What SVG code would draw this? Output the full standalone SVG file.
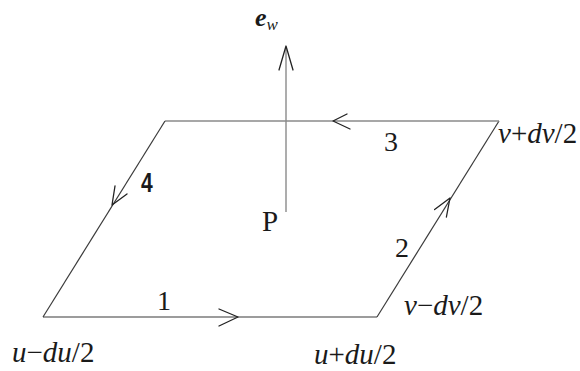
<svg xmlns="http://www.w3.org/2000/svg" width="580" height="371" viewBox="0 0 580 371">
<style>
.edge{stroke:#3a3a3a;stroke-width:1.2;fill:none}
.light{stroke:#8a8a8a;stroke-width:1.4;fill:none}
.head{stroke:#222;stroke-width:1.3;fill:none;stroke-linecap:round;stroke-linejoin:round}
.lab{font-family:"Liberation Serif","Times New Roman",serif;font-size:29px;fill:#1a1a1a}
.it{font-style:italic}
.num{font-family:"Liberation Serif","Times New Roman",serif;font-size:28px;fill:#1a1a1a}
.num4{font-family:"Liberation Sans",Arial,sans-serif;font-size:27px;font-weight:bold;fill:#1a1a1a}
</style>
<rect width="580" height="371" fill="#ffffff"/>
<g id="connectors">
  <line id="edge1" class="edge" x1="43" y1="317" x2="377" y2="317"/>
  <line id="edge2" class="edge" x1="377" y1="317" x2="499" y2="121"/>
  <line id="edge3" class="light" x1="499" y1="121" x2="165" y2="121"/>
  <line id="edge4" class="edge" x1="165" y1="121" x2="43" y2="317"/>
  <line id="normal" class="light" x1="286" y1="212" x2="286" y2="47"/>
  <path class="head" d="M279,70 L286,46 L293,70"/>
  <path class="head" d="M219,309 L238,317 L219,326"/>
  <path class="head" d="M434.6,209.6 L450,198 L446.4,217"/>
  <path class="head" d="M347,114 L333,121 L350,129"/>
  <path class="head" d="M127,194 L112,205 L115,186"/>
</g>
<g id="node-ew">
  <text x="255" y="26" font-family="Liberation Serif,serif" font-size="26" font-weight="bold" font-style="italic" fill="#1a1a1a">e<tspan font-size="17" font-weight="normal" dy="4">w</tspan></text>
</g>
<g id="node-P"><text class="lab" x="262" y="231">P</text></g>
<g id="label-1"><text class="num" x="157" y="310">1</text></g>
<g id="label-2"><text class="num" x="395" y="257">2</text></g>
<g id="label-3"><text class="num" x="384" y="151">3</text></g>
<g id="label-4"><text class="num4" x="141" y="192" transform="translate(141 0) scale(0.78 1) translate(-141 0)">4</text></g>
<g id="label-u-minus"><text class="lab" x="12" y="362"><tspan class="it">u</tspan>−<tspan class="it">du</tspan>/2</text></g>
<g id="label-u-plus"><text class="lab" x="314" y="364"><tspan class="it">u</tspan>+<tspan class="it">du</tspan>/2</text></g>
<g id="label-v-minus"><text class="lab" x="404" y="315"><tspan class="it">v</tspan>−<tspan class="it">dv</tspan>/2</text></g>
<g id="label-v-plus"><text class="lab" x="498" y="143"><tspan class="it">v</tspan>+<tspan class="it">dv</tspan>/2</text></g>
</svg>
